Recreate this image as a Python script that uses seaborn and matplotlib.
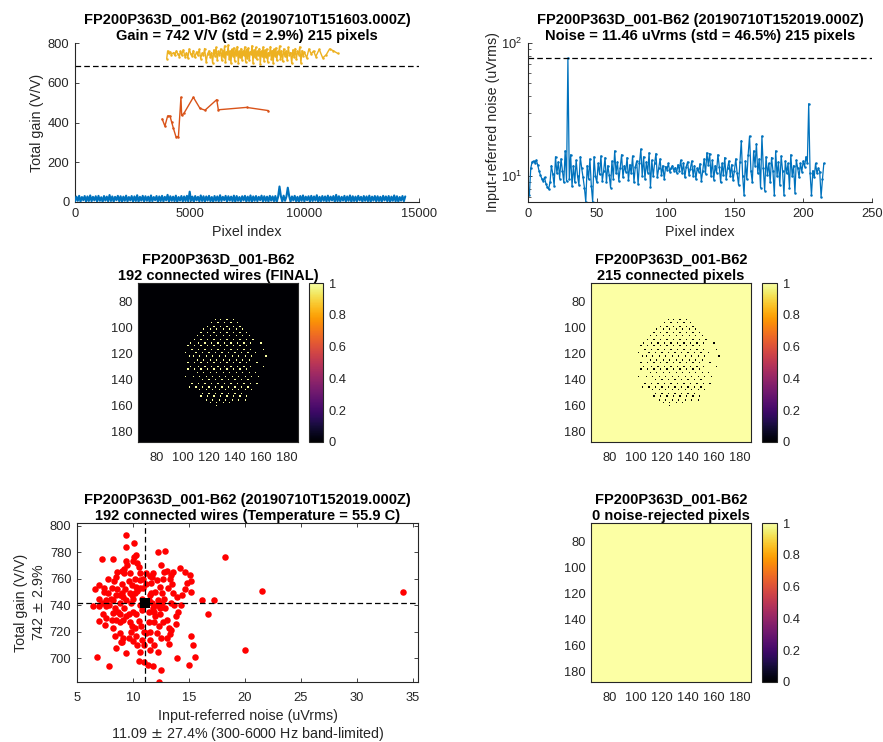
import numpy as np
import matplotlib
matplotlib.use('Agg')
import matplotlib.pyplot as plt
import seaborn as sns

# ---------------- data ----------------
chip = 'FP200P363D_001-B62'

# total gain per pixel index (blue band, all pixels)
gain_all = [3, 27, 6, 31, 2, 25, 9, 30, 1, 28, 5, 33, 4, 26, 8, 29, 2, 31, 6, 24,
            1, 30, 7, 27, 3, 35, 5, 28, 2, 26, 9, 31, 4, 29, 1, 27, 6, 32, 3, 25,
            8, 30, 2, 28, 5, 34, 1, 26, 7, 31, 3, 29, 6, 27, 2, 33, 4, 25, 9, 30,
            1, 28, 5, 31, 3, 26, 8, 36, 2, 29, 6, 27, 4, 32, 1, 25, 7, 30, 3, 28,
            5, 31, 2, 52, 6, 27, 1, 30, 8, 26, 3, 33, 5, 29, 2, 28, 7, 31, 4, 25,
            1, 30, 6, 28, 3, 34, 5, 26, 9, 31, 2, 29, 7, 27, 4, 32, 1, 30, 6, 25,
            3, 29, 8, 31, 2, 27, 5, 33, 1, 28, 6, 30, 4, 26, 9, 32, 3, 29, 5, 27,
            2, 31, 7, 28, 4, 30, 1, 26, 78, 29, 3, 32, 6, 27, 72, 30, 2, 28, 8, 31,
            4, 26, 1, 30, 6, 33, 3, 27, 9, 29, 2, 31, 5, 28, 7, 34, 1, 26, 4, 30,
            6, 28, 2, 32, 5, 27, 8, 30, 1, 36, 4, 29, 3, 26, 7, 31, 2, 28, 6, 33,
            1, 29, 5, 27, 3, 31, 8, 26, 2, 30, 6, 28, 4, 32, 1, 27, 7, 30, 3, 29,
            5, 26, 2, 31, 8, 28, 4, 30, 1, 27, 6, 33, 3, 29, 2, 25, 7, 30, 4, 28]
last_pixel = 14400

# orange trace
orange_x = [3800, 3920, 4040, 4140, 4210, 4290, 4400, 4510, 4620, 4650, 4750,
            5160, 5450, 5670, 6180, 6250, 7480, 8430]
orange_y = [418, 382, 433, 433, 404, 371, 329, 329, 527, 436, 446,
            527, 471, 462, 515, 464, 476, 460]

# yellow trace (connected pixels)
yellow_x = [4000, 4040, 4080, 4150, 4200, 4300, 4350, 4420, 4480, 4550, 4600,
            4650, 4720, 4800, 4860, 4920, 4980, 5050, 5100, 5160, 5220,
            5300, 5350, 5420, 5480, 5550, 5600, 5650, 5720, 5780, 5840, 5900,
            5950, 6000, 6050, 6100, 6150, 6200, 6250, 6300, 6350, 6400,
            6440, 6480, 6520, 6560, 6600, 6640, 6680, 6720, 6760, 6800, 6840,
            6880, 6920, 6960, 7000, 7040, 7080, 7120, 7160, 7200, 7240, 7280,
            7320, 7360, 7400, 7440, 7480, 7520, 7560, 7600, 7640, 7680, 7720,
            7760, 7800, 7840, 7880, 7920, 7960, 8000, 8040, 8080, 8120, 8160,
            8200, 8240, 8280, 8320, 8360, 8400, 8440, 8480, 8520, 8560, 8600,
            8640, 8680, 8720, 8760, 8800, 8840, 8880, 8920, 8960, 9000,
            9050, 9100, 9150, 9200, 9250, 9300, 9350, 9400, 9450, 9500, 9550,
            9600, 9650, 9700, 9750, 9800, 9850, 9900, 9950, 10000, 10100,
            10200, 10300, 10400, 10500, 10650, 10800, 10950, 11100, 11250, 11450]
yellow_y = [722, 760, 748, 755, 742, 752, 738, 760, 745, 732, 758,
            740, 765, 730, 750, 725, 770, 745, 735, 762, 728,
            755, 740, 768, 722, 750, 738, 772, 705, 745, 760, 730,
            752, 700, 765, 735, 778, 715, 758, 740, 770, 712,
            762, 730, 785, 705, 755, 745, 790, 720, 760, 698, 768,
            735, 775, 710, 765, 742, 782, 700, 758, 728, 772, 715,
            760, 738, 780, 705, 768, 725, 775, 712, 755, 745, 786,
            700, 765, 730, 778, 718, 760, 740, 772, 695, 758, 735,
            780, 710, 765, 728, 770, 705, 752, 742, 782, 720, 762,
            700, 768, 735, 775, 712, 758, 745, 785, 722, 760,
            708, 770, 735, 760, 715, 778, 740, 752, 698, 765, 728,
            772, 718, 758, 742, 780, 700, 762, 735, 755, 725,
            770, 745, 760, 732, 768, 725, 740, 770, 762, 748]
gain_limit = 683

# input-referred noise of the 215 connected pixels
noise_px = [7.2, 11.5, 12.8, 13.0, 12.6, 13.2, 12.2, 11.0, 10.2, 9.6,
            9.2, 9.8, 8.8, 8.3, 8.0, 9.0, 12.0, 10.4, 8.5, 14.0,
            10.5, 12.8, 9.6, 13.5, 11.0, 9.0, 15.5, 9.2, 77.0, 9.5,
            14.5, 8.4, 12.0, 9.0, 13.2, 10.0, 8.6, 14.0, 11.5, 9.8,
            8.2, 6.4, 12.0, 9.5, 13.5, 8.5, 6.4, 14.0, 10.0, 9.0,
            12.5, 10.3, 14.2, 9.2, 11.0, 13.8, 9.0, 12.0, 10.2, 8.2,
            13.0, 9.6, 15.5, 10.5, 12.8, 9.2, 11.5, 14.5, 9.8, 12.0,
            10.8, 13.8, 9.3, 12.2, 10.5, 14.2, 9.0, 11.8, 13.0, 8.7,
            12.5, 16.0, 10.0, 14.0, 9.5, 12.8, 10.6, 15.0, 8.3, 13.2,
            10.0, 12.5, 14.8, 9.8, 11.5, 13.5, 10.2, 12.0, 9.5, 11.8,
            11.2, 12.5, 10.8, 11.5, 12.0, 11.0, 11.6, 10.6, 12.2, 11.0,
            13.2, 10.5, 12.6, 9.8, 11.8, 12.8, 10.2, 11.4, 13.0, 10.0,
            12.0, 9.5, 11.5, 10.8, 12.4, 9.2, 11.0, 13.5, 10.4, 15.0,
            12.2, 14.8, 10.0, 13.2, 9.4, 12.0, 10.6, 14.5, 11.8, 9.0,
            12.5, 10.2, 13.8, 9.5, 11.5, 13.0, 10.0, 12.2, 9.3, 11.0,
            13.5, 10.5, 8.6, 12.8, 18.5, 10.0, 7.2, 13.0, 9.5, 14.5,
            20.0, 11.0, 9.0, 15.5, 12.0, 17.5, 10.5, 13.5, 8.2, 20.0,
            11.5, 7.8, 14.0, 10.2, 12.5, 9.0, 13.8, 11.0, 7.2, 15.5,
            10.0, 12.8, 8.6, 14.2, 11.0, 7.2, 13.0, 10.5, 12.5, 8.2,
            14.5, 10.0, 12.0, 7.5, 13.2, 11.5, 9.8, 12.5, 10.8, 13.0,
            11.8, 14.0, 12.5, 35.0, 10.5, 7.2, 11.0, 9.8, 12.5, 10.5,
            11.5, 10.8, 7.0, 9.5, 12.5]
noise_limit = 77

# electrode map: row (y) -> columns (x) of connected sites
dot_rows = [(94, [125, 129, 134, 139]),
            (96, [122, 127, 132, 137, 142]),
            (99, [119, 124, 129, 134, 139, 144]),
            (101, [116, 121, 126, 131, 136, 141, 146]),
            (104, [114, 119, 124, 129, 134, 139, 144, 149]),
            (106, [111, 116, 121, 126, 131, 136, 141, 146, 151]),
            (109, [109, 114, 119, 124, 129, 134, 139, 144, 149, 154]),
            (112, [106, 112, 117, 122, 127, 132, 137, 142, 147, 152, 160]),
            (114, [104, 109, 114, 119, 124, 129, 134, 139, 144, 149]),
            (117, [107, 112, 117, 122, 127, 132, 137, 142, 147, 152, 162]),
            (119, [102, 110, 115, 120, 125, 130, 135, 140, 145, 150, 156]),
            (122, [105, 108, 113, 118, 123, 128, 133, 138, 143, 148, 153, 164]),
            (125, [111, 116, 121, 126, 131, 136, 141, 146, 151]),
            (127, [104, 109, 114, 119, 124, 129, 134, 139, 144, 149, 157]),
            (130, [106, 112, 117, 122, 127, 132, 137, 142, 147, 152, 162]),
            (132, [104, 109, 114, 119, 124, 129, 134, 139, 144, 149]),
            (135, [111, 116, 121, 126, 131, 136, 141, 146, 151, 156]),
            (138, [102, 108, 113, 118, 123, 128, 133, 138, 143, 148, 153, 158]),
            (140, [115, 120, 125, 130, 135, 140, 145, 150]),
            (143, [107, 112, 117, 122, 127, 132, 137, 142, 147, 152, 157]),
            (146, [105, 110, 115, 120, 125, 130, 135, 140, 145, 150]),
            (148, [113, 118, 123, 128, 133, 138, 143, 148, 153]),
            (151, [115, 120, 125, 130, 135, 140, 145]),
            (153, [114, 119, 124, 129, 134, 139, 144, 149]),
            (156, [118, 123, 128, 133, 138, 143, 148]),
            (158, [121, 126, 131, 136]),
            (160, [126])]
map_lo, map_hi = 66, 188

# gain vs noise per connected wire
noise_uv = [34.1, 21.5, 20.0, 18.2, 16.7, 17.2, 16.2, 15.5, 15.4, 15.2, 15.0, 15.1, 15.2, 15.2,
            14.6, 14.2, 14.4, 14.3, 13.9, 13.8, 13.4, 13.2, 13.4, 13.4, 13.0, 12.9, 12.5, 12.5,
            12.7, 12.6, 12.4, 12.1, 11.8, 12.7, 12.3, 11.9, 11.8, 11.7, 11.6, 11.5, 11.4, 11.4,
            11.2, 11.5, 11.8, 11.9, 12.2, 11.5, 12.3, 11.0, 11.0, 11.0, 10.5, 10.4, 10.8, 10.3,
            10.2, 10.3, 10.0, 9.9, 9.6, 10.0, 9.1, 9.1, 9.0, 9.4, 8.5, 8.8, 8.8, 8.7, 8.4, 8.2,
            8.2, 8.5, 8.1, 7.8, 7.6, 7.2, 7.0, 7.6, 7.0, 6.8, 7.9, 6.4, 6.6, 7.0, 7.2, 8.2, 7.8,
            8.5, 9.0, 9.2, 9.4, 9.4, 10.1, 10.1, 10.3, 10.4, 10.0, 9.4, 9.2, 9.7, 9.6, 9.9, 10.3,
            10.6, 10.9, 10.6, 10.9, 9.3, 9.0, 8.8, 9.7, 10.2, 9.4, 9.8, 8.8, 10.6, 11.7, 10.6,
            10.5, 12.1, 12.4, 13.1, 13.6, 13.3, 11.5, 12.9, 13.7, 13.0, 13.3, 12.5, 12.1, 11.5,
            11.4, 8.2, 8.4, 8.1, 7.5, 8.5, 8.8, 9.4, 9.7, 7.3, 7.0, 7.6, 7.9, 12.0, 11.3, 9.5,
            8.6, 10.8, 12.0, 12.8, 13.5, 14.0, 13.2, 12.2, 10.5, 9.2, 8.0, 7.4, 12.8, 11.2, 10.0,
            9.0, 8.3, 12.4, 13.8, 11.6, 10.8, 9.6, 8.6, 11.2, 13.6, 14.8, 9.8, 10.6, 13.0, 8.9,
            7.4, 10.2, 12.6, 11.0, 9.9, 14.6, 12.2, 10.4, 9.1, 13.9, 11.9, 10.7]
gain_vv = [750, 751, 706, 776, 733, 744, 744, 701, 710, 717, 695, 763, 758, 750,
           765, 768, 748, 740, 700, 732, 721, 723, 742, 763, 766, 781, 691, 770,
           760, 749, 738, 740, 738, 727, 724, 735, 764, 761, 757, 748, 744, 727,
           719, 714, 694, 710, 780, 706, 682, 720, 710, 697, 698, 710, 714, 717,
           723, 733, 735, 724, 715, 713, 715, 729, 712, 704, 708, 719, 727, 735, 738, 734,
           744, 748, 753, 749, 739, 742, 739, 730, 728, 701, 694, 739, 752, 755, 775, 775, 760,
           761, 766, 767, 793, 784, 787, 776, 778, 772, 773, 773, 764, 764, 758, 755, 754,
           753, 753, 759, 760, 752, 749, 748, 749, 749, 744, 742, 742, 740, 742, 764,
           769, 759, 754, 753, 749, 760, 762, 738, 740, 729, 718, 715, 719, 720,
           735, 723, 717, 729, 725, 729, 733, 732, 727, 733, 745, 744, 740, 732, 695, 770,
           765, 745, 750, 745, 756, 735, 711, 705, 728, 738, 745, 750, 765, 756, 745,
           756, 758, 733, 726, 749, 736, 733, 752, 764, 765, 757, 720, 705, 715, 712,
           753, 760, 742, 741, 748, 752, 744, 751, 746, 746, 727, 724]
noise_mean, gain_mean = 11.09, 742

# ---------------- style ----------------
sns.set_style('ticks')
plt.rcParams['font.family'] = ['Liberation Sans', 'DejaVu Sans']
plt.rcParams['xtick.direction'] = 'in'
plt.rcParams['ytick.direction'] = 'in'
plt.rcParams['axes.edgecolor'] = '#262626'
plt.rcParams['axes.linewidth'] = 0.8
plt.rcParams['xtick.color'] = '#262626'
plt.rcParams['ytick.color'] = '#262626'
plt.rcParams['axes.labelcolor'] = '#262626'

BLUE, ORANGE, YELLOW = '#0072BD', '#D95319', '#EDB120'
TICK_FS, LAB_FS, TIT_FS = 9.3, 10.3, 10.5
DASH = (0, (4.5, 2.5))

W, H = 883, 742
fig = plt.figure(figsize=(W / 100, H / 100), dpi=100)


def box(l, r, t, b):
    return [l / W, (H - b) / H, (r - l) / W, (b - t) / H]


def title(ax, txt):
    ax.set_title(txt, fontsize=TIT_FS, fontweight='bold', color='k', pad=2, linespacing=1.22)


def tidy(ax, xpad=4):
    ax.tick_params(labelsize=TICK_FS, length=3, width=0.6, pad=4)
    ax.tick_params(axis='x', pad=xpad)


# ---- panel 1: gain per pixel ----
ax1 = fig.add_axes(box(75, 419, 43, 202))
pix_all = np.linspace(0, last_pixel, len(gain_all))
sns.lineplot(x=pix_all, y=gain_all, ax=ax1, color=BLUE, lw=1.5, estimator=None, sort=False, zorder=3)
sns.lineplot(x=orange_x, y=orange_y, ax=ax1, color=ORANGE, lw=1, marker='o', markersize=1.8,
             markeredgewidth=0, estimator=None, sort=False)
sns.lineplot(x=yellow_x, y=yellow_y, ax=ax1, color=YELLOW, lw=1, marker='o', markersize=1.8,
             markeredgewidth=0, estimator=None, sort=False)
ax1.axhline(gain_limit, color='k', ls=DASH, lw=0.9)
ax1.set_xlim(0, 15000)
ax1.set_ylim(0, 800)
ax1.set_xticks([0, 5000, 10000, 15000])
ax1.set_yticks([0, 200, 400, 600, 800])
ax1.set_xlabel('Pixel index', fontsize=LAB_FS, labelpad=4)
ax1.set_ylabel('Total gain (V/V)', fontsize=LAB_FS, labelpad=3)
sns.despine(ax=ax1)
tidy(ax1)
title(ax1, f'{chip} (20190710T151603.000Z)\nGain = 742 V/V (std = 2.9%) 215 pixels')

# ---- panel 2: noise per pixel ----
ax2 = fig.add_axes(box(528, 872, 43, 202))
pix = np.arange(1, len(noise_px) + 1)
sns.lineplot(x=pix, y=noise_px, ax=ax2, color=BLUE, lw=0.9, marker='o', markersize=1.8,
             markeredgewidth=0, estimator=None, sort=False)
ax2.axhline(noise_limit, color='k', ls=DASH, lw=0.9)
ax2.set_yscale('log')
ax2.set_xlim(0, 250)
ax2.set_ylim(6.4, 100)
ax2.set_xticks([0, 50, 100, 150, 200, 250])
ax2.set_xlabel('Pixel index', fontsize=LAB_FS, labelpad=4)
ax2.set_ylabel('Input-referred noise (uVrms)', fontsize=LAB_FS, labelpad=1)
sns.despine(ax=ax2)
tidy(ax2)
ax2.tick_params(which='minor', length=2, width=0.5)
title(ax2, f'{chip} (20190710T152019.000Z)\nNoise = 11.46 uVrms (std = 46.5%) 215 pixels')

# ---- maps ----
n = map_hi - map_lo + 1
wires = np.zeros((n, n))
pixels = np.ones((n, n))
for yy, xs in dot_rows:
    for xx in xs:
        wires[yy - map_lo, xx - map_lo] = 1
        pixels[yy - map_lo, xx - map_lo] = 0
rejected = np.ones((n, n))

map_ticks = [80, 100, 120, 140, 160, 180]
cb_ticks = [0, 0.2, 0.4, 0.6, 0.8, 1]


def draw_map(grid, ax_box, cb_box, txt):
    ax = fig.add_axes(box(*ax_box))
    cax = fig.add_axes(box(*cb_box))
    sns.heatmap(grid, ax=ax, cbar_ax=cax, cmap='inferno', vmin=0, vmax=1,
                xticklabels=False, yticklabels=False)
    pos = [v - map_lo + 0.5 for v in map_ticks]
    ax.set_xticks(pos)
    ax.set_xticklabels([str(v) for v in map_ticks], rotation=0)
    ax.set_yticks(pos)
    ax.set_yticklabels([str(v) for v in map_ticks], rotation=0)
    for s in ax.spines.values():
        s.set_visible(True)
        s.set_color('#262626')
        s.set_linewidth(0.8)
    ax.tick_params(top=True, right=True, direction='in')
    tidy(ax, xpad=7)
    cbar = ax.collections[0].colorbar
    cbar.set_ticks(cb_ticks)
    cbar.set_ticklabels(['0', '0.2', '0.4', '0.6', '0.8', '1'])
    cbar.outline.set_linewidth(0.8)
    cbar.outline.set_edgecolor('#262626')
    cax.tick_params(labelsize=TICK_FS, direction='in', length=3, width=0.6, pad=4, color='#262626')
    title(ax, txt)


draw_map(wires, (138, 298, 283, 442), (309, 323, 283, 442),
         f'{chip}\n192 connected wires (FINAL)')
draw_map(pixels, (591, 751, 283, 442), (762, 777, 283, 442),
         f'{chip}\n215 connected pixels')
draw_map(rejected, (591, 751, 523, 682), (762, 777, 523, 682),
         f'{chip}\n0 noise-rejected pixels')

# ---- panel 5: gain vs noise ----
ax5 = fig.add_axes(box(77, 418, 523, 682))
sns.scatterplot(x=noise_uv, y=gain_vv, ax=ax5, color='red', s=22, linewidth=0, zorder=2)
ax5.axvline(noise_mean, color='k', ls=DASH, lw=0.9, zorder=3)
ax5.axhline(gain_mean, color='k', ls=DASH, lw=0.9, zorder=3)
sns.scatterplot(x=[noise_mean], y=[gain_mean], ax=ax5, color='k', marker='s', s=62,
                linewidth=0, zorder=4)
ax5.set_xlim(5, 35.45)
ax5.set_ylim(682, 802)
ax5.set_xticks([5, 10, 15, 20, 25, 30, 35])
ax5.set_yticks([700, 720, 740, 760, 780, 800])
ax5.tick_params(top=True, right=True)
ax5.set_xlabel('Input-referred noise (uVrms)\n11.09 $\\pm$ 27.4% (300-6000 Hz band-limited)',
               fontsize=LAB_FS, labelpad=4, linespacing=1.12)
ax5.set_ylabel('Total gain (V/V)\n742 $\\pm$ 2.9%', fontsize=LAB_FS, labelpad=3, linespacing=1.3)
tidy(ax5, xpad=7)
title(ax5, f'{chip} (20190710T152019.000Z)\n192 connected wires (Temperature = 55.9 C)')

fig.savefig('out.png', dpi=100)
